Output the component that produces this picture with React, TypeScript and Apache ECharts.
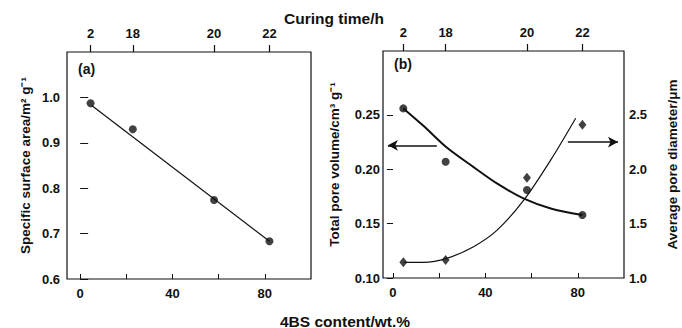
import React, { useEffect, useRef } from "react";
import * as echarts from "echarts";

// Sample positions (4BS content, wt.%) and corresponding curing times
const contentX = [4.5, 22.8, 58, 82];
const curingLabels = ["2", "18", "20", "22"];

// Panel (a): specific surface area, m2/g
const surfaceArea = [0.987, 0.93, 0.774, 0.683];
const surfaceFit = [[5, 0.982], [82, 0.683]];

// Panel (b): total pore volume (cm3/g) and average pore diameter (um)
const poreVolume = [0.256, 0.207, 0.181, 0.158];
const poreDiameter = [1.145, 1.166, 1.923, 2.41];
const volumeCurve = [[4.5, 0.256], [13.2, 0.24], [23.3, 0.22], [34.9, 0.202], [45, 0.187], [56.7, 0.173], [68.3, 0.164], [82, 0.158]];
const diameterCurve = [[4.9, 1.144], [13.2, 1.144], [23.3, 1.181], [34.9, 1.288], [45.1, 1.44], [56.7, 1.718], [68.3, 2.086], [79.1, 2.47]];

const xTicks = [0, 20, 40, 60, 80];
const xLabels = [0, 40, 80];
const aTicks = [0.6, 0.7, 0.8, 0.9, 1.0];
const bLeftTicks = [0.1, 0.15, 0.2, 0.25];
const bRightTicks = [1.0, 1.5, 2.0, 2.5];

const FONT = "'Liberation Sans', Arial, sans-serif";
const INK = "#111";

export default function App() {
  const ref = useRef<HTMLDivElement>(null);
  useEffect(() => {
    if (!ref.current) return;
    const chart = echarts.init(ref.current, null, { renderer: "svg" });
    const lab = { color: INK, fontFamily: FONT, fontWeight: "bold" as const, fontSize: 13 };
    const nameStyle = { color: INK, fontFamily: FONT, fontWeight: "bold" as const, fontSize: 13.5 };
    const axLine = { show: false };
    const curingFmt = (v: number) => {
      const i = contentX.findIndex((c) => Math.abs(c - v) < 0.01);
      return i >= 0 ? curingLabels[i] : "";
    };
    const bottomX = (gi: number, min: number) => ({
      type: "value", gridIndex: gi, min, max: 100, position: "bottom",
      axisLine: axLine, splitLine: { show: false },
      axisTick: { show: true, inside: true, length: 5, customValues: xTicks, lineStyle: { color: INK } },
      axisLabel: { ...lab, customValues: xLabels, margin: 8 },
    });
    const topX = (gi: number, min: number) => ({
      type: "value", gridIndex: gi, min, max: 100, position: "top",
      axisLine: axLine, splitLine: { show: false },
      axisTick: { show: true, inside: false, length: 7, customValues: contentX, lineStyle: { color: INK, width: 1.2 } },
      axisLabel: { ...lab, customValues: contentX, formatter: curingFmt, margin: 12 },
    });
    const option: any = {
      animation: false,
      backgroundColor: "#fff",
      textStyle: { fontFamily: FONT },
      grid: [
        { left: 67, top: 52, width: 244, height: 227, show: true, borderColor: INK, borderWidth: 1.2, backgroundColor: "transparent" },
        { left: 383, top: 51, width: 241, height: 227, show: true, borderColor: INK, borderWidth: 1.2, backgroundColor: "transparent" },
      ],
      xAxis: [bottomX(0, -5.7), topX(0, -5.7), bottomX(1, -4.3), topX(1, -4.3)],
      yAxis: [
        {
          type: "value", gridIndex: 0, min: 0.6, max: 1.1, position: "left",
          axisLine: axLine, splitLine: { show: false },
          axisTick: { show: true, inside: true, length: 8, customValues: aTicks, lineStyle: { color: INK } },
          axisLabel: { ...lab, customValues: aTicks, formatter: (v: number) => v.toFixed(1), margin: 7 },
          name: "Specific surface area/m\u00b2 g\u207b\u00b9", nameLocation: "middle", nameGap: 35, nameRotate: 90,
          nameTextStyle: nameStyle,
        },
        {
          type: "value", gridIndex: 1, min: 0.1, max: 0.3088, position: "left",
          axisLine: axLine, splitLine: { show: false },
          axisTick: { show: true, inside: false, length: 4, customValues: bLeftTicks, lineStyle: { color: INK } },
          axisLabel: { ...lab, customValues: bLeftTicks, formatter: (v: number) => v.toFixed(2), margin: 3 },
          name: "Total pore volume/cm\u00b3 g\u207b\u00b9", nameLocation: "middle", nameGap: 42, nameRotate: 90,
          nameTextStyle: nameStyle,
        },
        {
          type: "value", gridIndex: 1, min: 1.0, max: 3.088, position: "right",
          axisLine: axLine, splitLine: { show: false },
          axisTick: { show: true, inside: true, length: 6, customValues: bRightTicks, lineStyle: { color: INK } },
          axisLabel: { ...lab, customValues: bRightTicks, formatter: (v: number) => v.toFixed(1), margin: 5 },
          name: "Average pore diameter/\u03bcm", nameLocation: "middle", nameGap: 41, nameRotate: 90,
          nameTextStyle: nameStyle,
        },
      ],
      series: [
        {
          type: "line", xAxisIndex: 0, yAxisIndex: 0, data: surfaceFit, symbol: "none",
          lineStyle: { color: INK, width: 1.2 },
        },
        {
          type: "scatter", xAxisIndex: 0, yAxisIndex: 0, symbol: "circle", symbolSize: 8,
          data: contentX.map((x, i) => [x, surfaceArea[i]]), itemStyle: { color: INK },
        },
        {
          type: "line", xAxisIndex: 2, yAxisIndex: 1, data: volumeCurve, symbol: "none", smooth: 0.3,
          lineStyle: { color: INK, width: 2 },
          markLine: {
            silent: true, symbol: ["none", "arrow"], symbolSize: [8, 10],
            lineStyle: { color: INK, width: 1.5, type: "solid" }, label: { show: false },
            data: [[{ coord: [19, 0.222] }, { coord: [-2.2, 0.222] }]],
          },
        },
        {
          type: "scatter", xAxisIndex: 2, yAxisIndex: 1, symbol: "circle", symbolSize: 8,
          data: contentX.map((x, i) => [x, poreVolume[i]]), itemStyle: { color: INK },
        },
        {
          type: "line", xAxisIndex: 2, yAxisIndex: 2, data: diameterCurve, symbol: "none", smooth: 0.3,
          lineStyle: { color: INK, width: 1.2 },
          markLine: {
            silent: true, symbol: ["none", "arrow"], symbolSize: [8, 10],
            lineStyle: { color: INK, width: 1.5, type: "solid" }, label: { show: false },
            data: [[{ coord: [75.7, 2.25] }, { coord: [97.4, 2.25] }]],
          },
        },
        {
          type: "scatter", xAxisIndex: 2, yAxisIndex: 2, symbol: "diamond", symbolSize: [8, 10],
          data: contentX.map((x, i) => [x, poreDiameter[i]]), itemStyle: { color: INK },
        },
      ],
      graphic: [
        { type: "text", left: 78, top: 62, style: { text: "(a)", fill: INK, font: `bold 14px ${FONT}` } },
        { type: "text", left: 394, top: 57, style: { text: "(b)", fill: INK, font: `bold 14px ${FONT}` } },
        { type: "text", x: 334, y: 18, style: { text: "Curing time/h", fill: INK, font: `bold 15.5px ${FONT}`, align: "center", verticalAlign: "middle" } },
        { type: "text", x: 345, y: 321, style: { text: "4BS content/wt.%", fill: INK, font: `bold 15.5px ${FONT}`, align: "center", verticalAlign: "middle" } },
      ],
    };
    chart.setOption(option);
    return () => chart.dispose();
  }, []);
  return <div ref={ref} style={{ width: 682, height: 328, position: "absolute", left: 0, top: 0 }} />;
}
